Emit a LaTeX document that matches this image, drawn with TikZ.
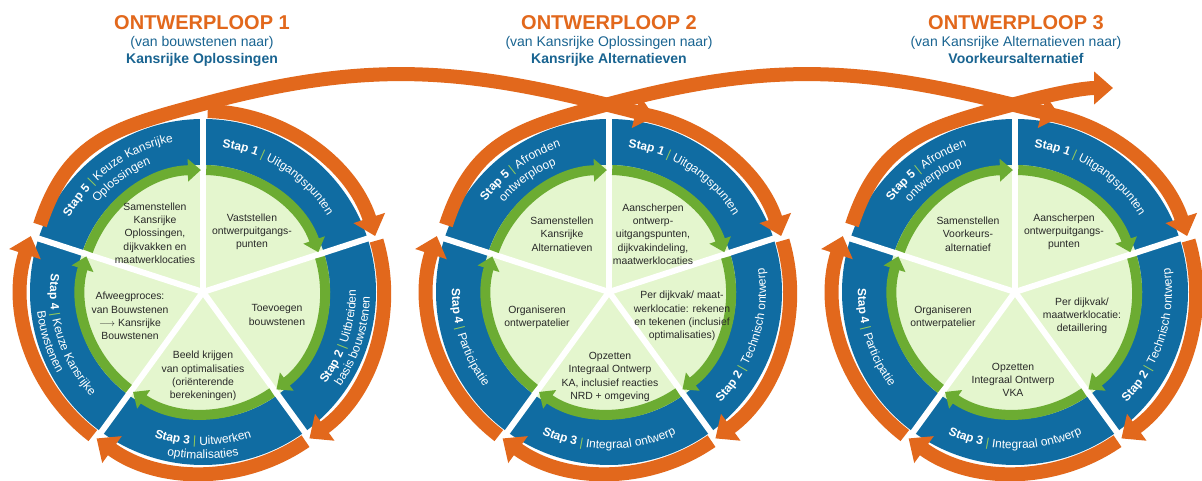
\documentclass[tikz,border=0pt]{standalone}
\usepackage{fontspec}
\setmainfont{Liberation Sans}
\usetikzlibrary{arrows.meta,decorations.text,calc}
\definecolor{oranje}{RGB}{226,104,28}
\definecolor{blauw}{RGB}{16,108,162}
\definecolor{tekstblauw}{RGB}{25,100,145}
\definecolor{groen}{RGB}{108,172,50}
\definecolor{lichtgroen}{RGB}{228,246,206}
\definecolor{sepgroen}{RGB}{150,205,90}
\definecolor{binnentekst}{RGB}{40,40,40}
\newcommand\RLb{\fontsize{12}{14}\selectfont\bfseries\color{white}}
\newcommand\RLs{\fontsize{12}{14}\selectfont\mdseries\color{sepgroen}}
\newcommand\RLn{\fontsize{12}{14}\selectfont\mdseries\color{white}}
\newcommand\RingText[5]{%
  \path[decorate,decoration={text along path,text align=center,text format delimiters={[}{]},text={#5}}]
    ($(#1)+(#3:#2)$) arc[start angle=#3,end angle=#4,radius=#2];}
\tikzset{
  orangepen/.style={oranje,line width=14pt,-{Triangle[width=32pt,length=19pt]}},
  greenpen/.style={groen,line width=10pt,-{Triangle[width=22pt,length=13pt]}},
  spoke/.style={white,line width=6pt},
  inner/.style={align=center,font=\fontsize{10.4}{13.3}\selectfont,text=binnentekst,inner sep=0pt},
  titel/.style={font=\fontsize{20}{24}\selectfont\bfseries,text=oranje,anchor=base,inner sep=0pt},
  sub/.style={font=\fontsize{14}{16}\selectfont,text=tekstblauw,anchor=base,inner sep=0pt},
  subb/.style={font=\fontsize{14}{16}\selectfont\bfseries,text=tekstblauw,anchor=base,inner sep=0pt}
}
\newcommand\DrawWheel[3]{%
  \coordinate (#1) at (#2,189);
  \fill[blauw] (#1) circle[radius=173];
  \fill[lichtgroen] (#1) circle[radius=127];
  \foreach \ang in {90,18,-54,-126,162}
    \draw[spoke] (#1) -- ($(#1)+(\ang:186)$);
  \foreach \ang in {90,18,-54,-126,162}
    \draw[greenpen] ($(#1)+({\ang-1.5}:122)$) arc[start angle={\ang-1.5},end angle={\ang-71},radius=122];
  \draw[orangepen] ($(#1)+(#3:181)$) arc[start angle=#3,end angle=18,radius=181];
  \foreach \ang in {18,-54,-126}
    \draw[orangepen] ($(#1)+({\ang-1.5}:181)$) arc[start angle={\ang-1.5},end angle={\ang-72},radius=181];
}
\begin{document}
\begin{tikzpicture}[x=1pt,y=1pt]
\useasboundingbox (0,0) rectangle (1202,481);
\fill[white] (0,0) rectangle (1202,481);

% titles
\node[titel] (t1) at (202,451.5) {ONTWERPLOOP 1};
\node[sub] (s1) at (202,434) {(van bouwstenen naar)};
\node[subb] (b1) at (202,417.5) {Kansrijke Oplossingen};
\node[titel] (t2) at (609,451.5) {ONTWERPLOOP 2};
\node[sub] (s2) at (609,434) {(van Kansrijke Oplossingen naar)};
\node[subb] (b2) at (609,417.5) {Kansrijke Alternatieven};
\node[titel] (t3) at (1016,451.5) {ONTWERPLOOP 3};
\node[sub] (s3) at (1016,434) {(van Kansrijke Alternatieven naar)};
\node[subb] (b3) at (1016,417.5) {Voorkeursalternatief};

% wheels
\DrawWheel{c1}{203}{88.5}
\DrawWheel{c2}{609}{80}
\DrawWheel{c3}{1015}{80}

% big arcs
\coordinate (p1a) at (40,256);
\coordinate (m1) at (203,377);
\coordinate (e1) at ($(c2)+(75.5:181)$);
\draw[orangepen] (p1a) .. controls (67.8,341.6) and (116.1,353.7) .. (m1)
  .. controls (376.9,423.6) and (470.4,411.8) .. (e1);
\coordinate (p2a) at (446,256);
\coordinate (m2) at (609,377);
\coordinate (e2) at ($(c3)+(75.5:181)$);
\draw[orangepen] (p2a) .. controls (473.8,341.6) and (522.1,353.7) .. (m2)
  .. controls (782.9,423.6) and (876.4,411.8) .. (e2);
\coordinate (p3a) at (852,256);
\coordinate (m3) at (1015,377);
\coordinate (e3) at (1113,393);
\draw[orangepen] (p3a) .. controls (879.8,341.6) and (928.1,353.7) .. (m3)
  .. controls (1053.6,387.4) and (1083,393) .. (e3);

% ring labels circle 1
\RingText{c1}{146}{93}{21}{[\RLb]Stap 1 [\RLs]|[\RLn] Uitgangspunten}
\RingText{c1}{153}{-54}{18}{[\RLb]Stap 2 [\RLs]|[\RLn] Uitbreiden}
\RingText{c1}{167}{-54}{18}{[\RLn]basis bouwstenen}
\RingText{c1}{153}{-126}{-54}{[\RLb]Stap 3 [\RLs]|[\RLn] Uitwerken}
\RingText{c1}{167}{-126}{-54}{[\RLn]optimalisaties}
\RingText{c1}{153}{162}{234}{[\RLb]Stap 4 [\RLs]|[\RLn] Keuze Kansrijke}
\RingText{c1}{167}{162}{234}{[\RLn]Bouwstenen}
\RingText{c1}{153}{162}{90}{[\RLb]Stap 5 [\RLs]|[\RLn] Keuze Kansrijke}
\RingText{c1}{138}{162}{90}{[\RLn]Oplossingen}
% ring labels circle 2
\RingText{c2}{146}{93}{21}{[\RLb]Stap 1 [\RLs]|[\RLn] Uitgangspunten}
\RingText{c2}{157}{-54}{18}{[\RLb]Stap 2 [\RLs]|[\RLn] Technisch ontwerp}
\RingText{c2}{157}{-126}{-54}{[\RLb]Stap 3 [\RLs]|[\RLn] Integraal ontwerp}
\RingText{c2}{157}{162}{234}{[\RLb]Stap 4 [\RLs]|[\RLn] Participatie}
\RingText{c2}{153}{162}{90}{[\RLb]Stap 5 [\RLs]|[\RLn] Afronden}
\RingText{c2}{138}{162}{90}{[\RLn]ontwerploop}
% ring labels circle 3
\RingText{c3}{146}{93}{21}{[\RLb]Stap 1 [\RLs]|[\RLn] Uitgangspunten}
\RingText{c3}{157}{-54}{18}{[\RLb]Stap 2 [\RLs]|[\RLn] Technisch ontwerp}
\RingText{c3}{157}{-126}{-54}{[\RLb]Stap 3 [\RLs]|[\RLn] Integraal ontwerp}
\RingText{c3}{157}{162}{234}{[\RLb]Stap 4 [\RLs]|[\RLn] Participatie}
\RingText{c3}{153}{162}{90}{[\RLb]Stap 5 [\RLs]|[\RLn] Afronden}
\RingText{c3}{138}{162}{90}{[\RLn]ontwerploop}

% inner texts circle 1
\node[inner] (i15) at (155,248) {Samenstellen\\Kansrijke\\Oplossingen,\\dijkvakken en\\maatwerklocaties};
\node[inner] (i11) at (252,249) {Vaststellen\\ontwerpuitgangs-\\punten};
\node[inner] (i12) at (277,166) {Toevoegen\\bouwstenen};
\node[inner] (i13) at (203,105) {Beeld krijgen\\van optimalisaties\\(oriënterende\\berekeningen)};
\node[inner] (i14) at (130,165) {Afweegproces:\\van Bouwstenen\\$\longrightarrow$ Kansrijke\\Bouwstenen};
% inner texts circle 2
\node[inner] (i25) at (562,247) {Samenstellen\\Kansrijke\\Alternatieven};
\node[inner] (i21) at (653,247) {Aanscherpen\\ontwerp-\\uitgangspunten,\\dijkvakindeling,\\maatwerklocaties};
\node[inner] (i22) at (682,165) {Per dijkvak/ maat-\\werklocatie: rekenen\\en tekenen (inclusief\\optimalisaties)};
\node[inner] (i23) at (610,104) {Opzetten\\Integraal Ontwerp\\KA, inclusief reacties\\NRD + omgeving};
\node[inner] (i24) at (537,164) {Organiseren\\ontwerpatelier};
% inner texts circle 3
\node[inner] (i35) at (968,247) {Samenstellen\\Voorkeurs-\\alternatief};
\node[inner] (i31) at (1064,249) {Aanscherpen\\ontwerpuitgangs-\\punten};
\node[inner] (i32) at (1082,165) {Per dijkvak/\\maatwerklocatie:\\detaillering};
\node[inner] (i33) at (1013,101) {Opzetten\\Integraal Ontwerp\\VKA};
\node[inner] (i34) at (943,164) {Organiseren\\ontwerpatelier};
\end{tikzpicture}
\end{document}
